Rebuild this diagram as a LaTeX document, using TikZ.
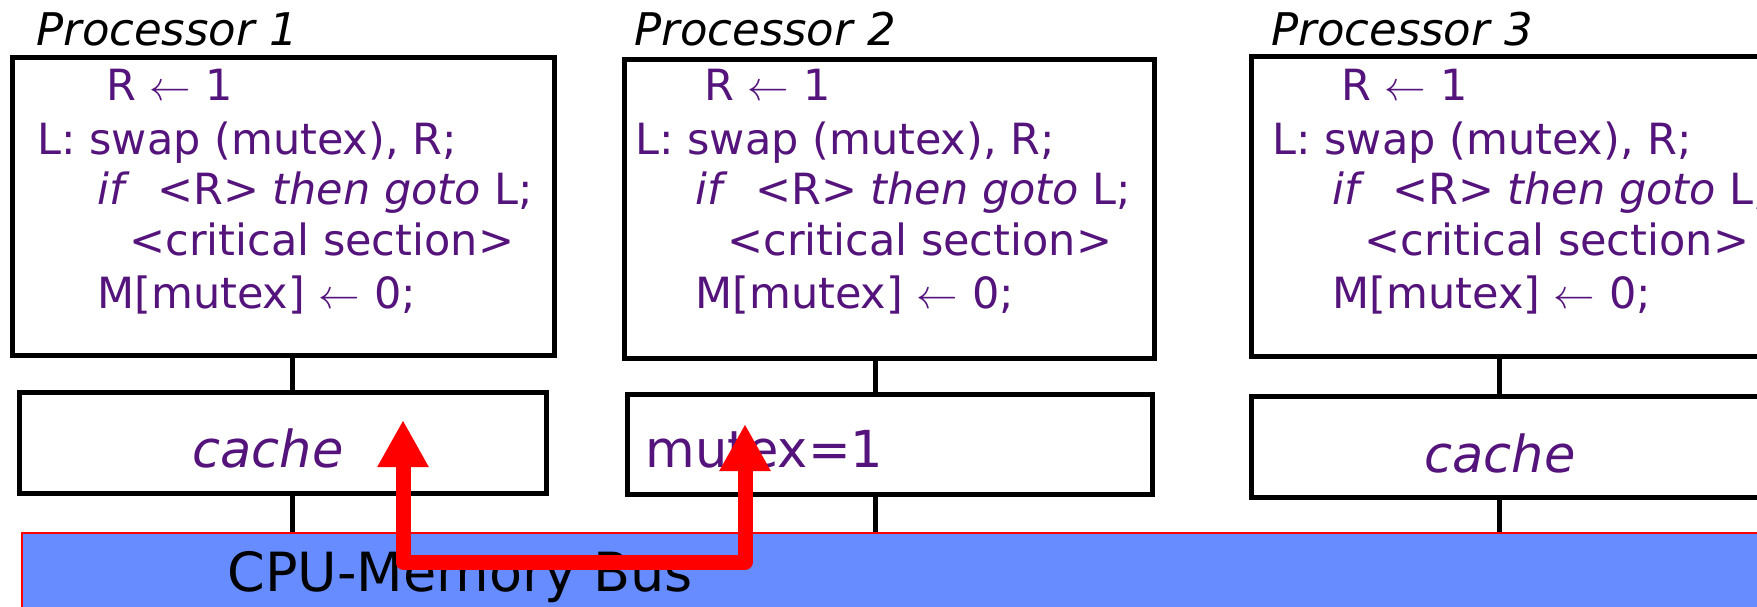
\documentclass[tikz,border=0pt]{standalone}
\usepackage{fontspec}
\setmainfont{DejaVu Sans}
\usetikzlibrary{arrows.meta}
\definecolor{codepurple}{RGB}{84,20,124}
\definecolor{busblue}{RGB}{102,140,255}
\newcommand{\assignarrow}{$\leftarrow$}
\begin{document}
\begin{tikzpicture}[x=0.5pt,y=-0.5pt,
  procbox/.style={draw=black,line width=2.5pt,fill=white,inner sep=0pt},
  wire/.style={draw=black,line width=2.5pt},
  code/.style={anchor=base west,inner sep=0pt,text=codepurple,
    font=\fontsize{21.5pt}{26pt}\selectfont},
  proctitle/.style={anchor=base west,inner sep=0pt,
    font=\fontsize{22.5pt}{27pt}\selectfont\itshape},
  celltext/.style={anchor=base west,inner sep=0pt,text=codepurple,
    font=\fontsize{25.5pt}{30pt}\selectfont},
  busarrow/.style={draw=red,line width=7.5pt,line join=round,
    {Triangle[length=23.5pt,width=24pt]}-{Triangle[length=23.5pt,width=24pt]}},
]
\useasboundingbox (0,0) rectangle (1757,606);
\clip (0,0) rectangle (1757,606);

% memory bus
\node[fill=busblue,draw=red,line width=0.75pt,inner sep=0pt,anchor=north west,
      minimum width=889.5pt,minimum height=59pt] (bus) at (21,532) {};
\node[anchor=base west,inner sep=0pt,font=\fontsize{27pt}{32pt}\selectfont]
      (bustext) at (227,591) {CPU-Memory Bus};

% processors: box centre, box size, text offset, wire x
\foreach \i/\bx/\by/\bw/\bh/\dx/\wx/\cx/\cy/\cw in {
    1/283.5/206.5/271/149/0/292/282.75/442.75/263.25,
    2/889.25/209/264.75/149.5/598/875/889.75/444.5/262.25,
    3/1522.5/206.25/271/149.75/1235/1499/1514.5/446.75/263.5}{
  \node[procbox,minimum width=\bw pt,minimum height=\bh pt] (p\i) at (\bx,\by) {};
  \node[procbox,minimum width=\cw pt,minimum height=50.25pt] (c\i) at (\cx,\cy) {};
  \coordinate (k\i) at (\wx,0);
  \draw[wire] (p\i.south -| k\i) -- (c\i.north -| k\i);
  \draw[wire] (c\i.south -| k\i) -- (bus.north -| k\i);
  \node[proctitle] (t\i) at (36+\dx,45) {Processor \i};
  \node[code] (r\i) at (106+\dx,100.5) {R \assignarrow{} 1};
  \node[code] (s\i) at (37+\dx,154) {L: swap (mutex), R;};
  \node[code] (g\i) at (97+\dx,204) {\textit{if}\ \ <R> \textit{then goto} L;};
  \node[code] (x\i) at (129+\dx,255) {<critical section>};
  \node[code] (m\i) at (97+\dx,308) {M[mutex] \assignarrow{} 0;};
}

% cache contents
\node[celltext] (c1text) at (192,467) {\textit{cache}};
\node[celltext] (c2text) at (645,467) {mutex=1};
\node[celltext] (c3text) at (1424,472) {\textit{cache}};

% value travelling over the bus
\coordinate (a1) at (403,420);
\coordinate (a2) at (745,424);
\coordinate (turn) at (745,562);
\draw[busarrow] (a1) |- (turn) -- (a2);
\end{tikzpicture}
\end{document}
